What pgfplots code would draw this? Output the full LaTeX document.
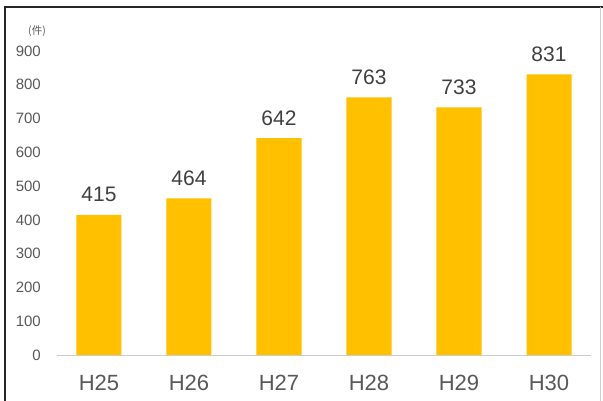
\documentclass[border=0pt]{standalone}
\usepackage{pgfplots}
\pgfplotsset{compat=1.18}
\usepackage{fontspec}
\setmainfont{Liberation Sans}
\newfontfamily\cjk{Noto Sans CJK JP}
\definecolor{bar}{HTML}{FFC000}
\definecolor{tick}{HTML}{595959}
\definecolor{val}{HTML}{404040}
\begin{document}
\begin{tikzpicture}[x=1pt,y=1pt]
\path[use as bounding box] (0,0) rectangle (603,401);
\fill[white] (0,0) rectangle (603,401);
\begin{axis}[
  at={(54pt,46pt)}, anchor=south west,
  scale only axis, width=540pt, height=304pt,
  xmin=-0.5, xmax=5.5, ymin=0, ymax=900,
  clip=false,
  axis line style={draw=none},
  axis x line*=bottom,
  axis y line=left,
  xtick=data,
  xticklabels={H25,H26,H27,H28,H29,H30},
  ytick={0,100,...,900},
  major tick length=0pt,
  xticklabel style={font=\fontsize{22}{22}\selectfont, text=tick, anchor=center, inner sep=0pt, yshift=-27.5pt},
  yticklabel style={font=\fontsize{15}{15}\selectfont, text=tick, anchor=east, inner sep=0pt, xshift=-13pt},
  /pgf/number format/assume math mode=true,
  nodes near coords,
  nodes near coords style={font=\fontsize{21}{21}\selectfont, text=val, anchor=center, inner sep=0pt, yshift=20pt},
]
\addplot[ybar, bar width=45pt, fill=bar, draw=none] coordinates {
(0,415) (1,464) (2,642) (3,763) (4,733) (5,831)};
\draw[color=gray!40, line width=0.8pt] (axis cs:-0.47,0) -- (axis cs:5.47,0);
\end{axis}
\node[font=\cjk\fontsize{10.5}{10.5}\selectfont, text=tick] at (37,370) {(件)};
\draw[line width=2pt, color=black!85] (5,0) -- (5,393.5) -- (603,393.5);
\draw[line width=0.6pt, color=gray!35] (600,0) -- (600,393.5);
\end{tikzpicture}
\end{document}
